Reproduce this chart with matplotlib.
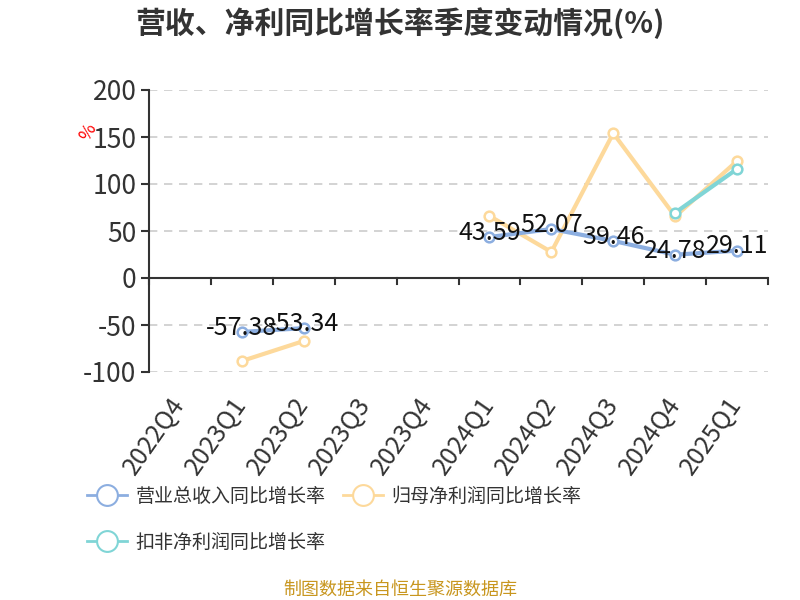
import matplotlib
matplotlib.use("Agg")
import matplotlib.pyplot as plt
from matplotlib.lines import Line2D
import numpy as np

plt.rcParams['font.family'] = ['Noto Sans CJK SC', 'DejaVu Sans']
plt.rcParams['axes.unicode_minus'] = False

quarters = ["2022Q4", "2023Q1", "2023Q2", "2023Q3", "2023Q4",
            "2024Q1", "2024Q2", "2024Q3", "2024Q4", "2025Q1"]
revenue = [np.nan, -57.38, -53.34, np.nan, np.nan, 43.59, 52.07, 39.46, 24.78, 29.11]
net_profit = [np.nan, -88.3, -67.0, np.nan, np.nan, 66.0, 27.7, 154.0, 65.5, 124.5]
deduct_profit = [np.nan, np.nan, np.nan, np.nan, np.nan, np.nan, np.nan, np.nan, 69.5, 116.0]

c_rev = '#8caee0'
c_net = '#fdd99b'
c_ded = '#80d5d6'

fig = plt.figure(figsize=(8, 6), dpi=100)
ax = fig.add_axes([0.18625, 0.38, 0.77375, 0.47])

x = np.arange(len(quarters))
mk = dict(marker='o', markersize=7, markerfacecolor='white', markeredgewidth=1.8)
ax.plot(x, net_profit, color=c_net, lw=3, markeredgecolor=c_net, zorder=3, **mk)
ax.plot(x, deduct_profit, color=c_ded, lw=3, markeredgecolor=c_ded, zorder=4, **mk)
ax.plot(x, revenue, color=c_rev, lw=3, markeredgecolor=c_rev, zorder=5, **mk)

for i, v in enumerate(revenue):
    if not np.isnan(v):
        ax.annotate(f"{v:.2f}", (i, v), xytext=(0, 3), textcoords='offset points',
                    ha='center', va='center', fontsize=18, color='#111111', zorder=6)

ax.set_xlim(-0.5, len(quarters) - 0.5)
ax.set_ylim(-100, 200)
ax.set_yticks([-100, -50, 0, 50, 100, 150, 200])
ax.yaxis.grid(True, linestyle=(0, (5, 4)), color='#cccccc', lw=1.2)
ax.set_axisbelow(True)
ax.set_xticks(x)
ax.set_xticklabels(quarters, rotation=55, ha='right', va='center', rotation_mode='anchor',
                   fontsize=18, color='#333333')
ax.tick_params(axis='x', which='major', length=0, pad=20)
ax.tick_params(axis='y', labelsize=19, labelcolor='#333333', length=6, width=1.5,
               color='#333333', pad=3)

for s in ['top', 'right', 'bottom']:
    ax.spines[s].set_visible(False)
ax.spines['left'].set_linewidth(1.5)
ax.spines['left'].set_color('#333333')
ax.axhline(0, color='#333333', lw=1.5, zorder=2)
# category boundary ticks on the zero line
for t in np.arange(-0.5, len(quarters)):
    ax.plot([t, t], [0, -6], color='#333333', lw=1.5, clip_on=False, zorder=2)

fig.text(0.11, 0.78, '%', color='red', fontsize=13, rotation=60, ha='center', va='center')

fig.text(0.5, 0.962, '营收、净利同比增长率季度变动情况(%)', ha='center', va='center',
         fontsize=21.5, fontweight='bold', color='#333333')

handles = [
    Line2D([], [], color=c_rev, lw=2, marker='o', markersize=15, markerfacecolor='white',
           markeredgewidth=1.5, markeredgecolor=c_rev),
    Line2D([], [], color=c_ded, lw=2, marker='o', markersize=15, markerfacecolor='white',
           markeredgewidth=1.5, markeredgecolor=c_ded),
    Line2D([], [], color=c_net, lw=2, marker='o', markersize=15, markerfacecolor='white',
           markeredgewidth=1.5, markeredgecolor=c_net),
]
labels = ['营业总收入同比增长率', '扣非净利润同比增长率', '归母净利润同比增长率']
fig.legend(handles, labels, ncol=2, loc='upper left', bbox_to_anchor=(0.109, 0.19),
           frameon=False, fontsize=13.7, labelcolor='#333333', handlelength=2.1,
           handletextpad=0.45, columnspacing=0.9, labelspacing=1.3,
           borderaxespad=0, borderpad=0)
fig.text(0.5, 0.018, '制图数据来自恒生聚源数据库', ha='center', va='center',
         fontsize=13, color='#c8961e')

fig.savefig('out.png', dpi=100)
